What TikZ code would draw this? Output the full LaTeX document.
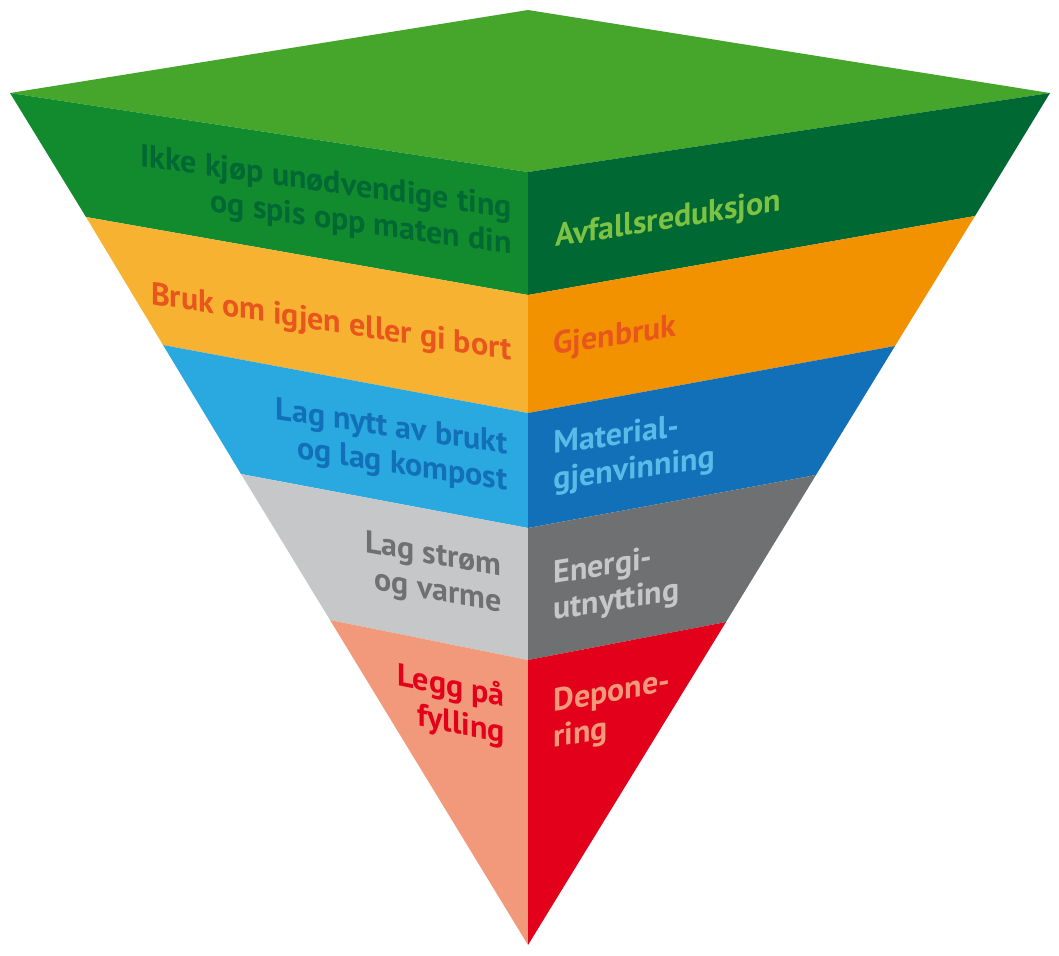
\documentclass[tikz,border=0pt]{standalone}
\usepackage{fontspec}
\setmainfont{PT Sans}
\usepackage{xcolor}
\usepackage{tikz}
\usetikzlibrary{calc}
\definecolor{topgreen}{RGB}{69,166,43}
\definecolor{greenleft}{RGB}{18,139,47}
\definecolor{greenright}{RGB}{0,104,51}
\definecolor{greenlight}{RGB}{125,194,66}
\definecolor{orangeleft}{RGB}{247,178,50}
\definecolor{orangeright}{RGB}{242,146,0}
\definecolor{orangetext}{RGB}{232,86,30}
\definecolor{blueleft}{RGB}{42,168,224}
\definecolor{blueright}{RGB}{17,112,183}
\definecolor{bluelight}{RGB}{88,187,232}
\definecolor{grayleft}{RGB}{198,199,200}
\definecolor{grayright}{RGB}{111,112,114}
\definecolor{salmonleft}{RGB}{241,153,122}
\definecolor{redright}{RGB}{226,0,26}

\begin{document}
\begin{tikzpicture}[
    x=0.5pt, y=-0.5pt,
    lefttext/.style={anchor=base east, align=right, inner sep=0pt, font=\fontsize{16}{18}\selectfont\bfseries},
    righttext/.style={anchor=base west, align=left, inner sep=0pt, font=\fontsize{16}{18}\selectfont\bfseries}
]
\useasboundingbox (0,0) rectangle (1059,955);

% Corners of the pyramid
\coordinate (apex) at (528,10);
\coordinate (tip) at (528,945);
\coordinate (l0) at (10,93);   \coordinate (c0) at (528,172); \coordinate (r0) at (1050,93);
\coordinate (l1) at (86,217);  \coordinate (c1) at (528,295); \coordinate (r1) at (975,216);
\coordinate (l2) at (163,345); \coordinate (c2) at (528,413); \coordinate (r2) at (895,346);
\coordinate (l3) at (241,474); \coordinate (c3) at (528,528); \coordinate (r3) at (816,475);
\coordinate (l4) at (330,620); \coordinate (c4) at (528,660); \coordinate (r4) at (726,622);

% Top face
\fill[topgreen] (l0) -- (apex) -- (r0) -- (c0) -- cycle;

% Left faces
\fill[greenleft] (l0) -- (c0) -- (c1) -- (l1) -- cycle;
\fill[orangeleft] (l1) -- (c1) -- (c2) -- (l2) -- cycle;
\fill[blueleft] (l2) -- (c2) -- (c3) -- (l3) -- cycle;
\fill[grayleft] (l3) -- (c3) -- (c4) -- (l4) -- cycle;
\fill[salmonleft] (l4) -- (c4) -- (tip) -- cycle;

% Right faces
\fill[greenright] (c0) -- (r0) -- (r1) -- (c1) -- cycle;
\fill[orangeright] (c1) -- (r1) -- (r2) -- (c2) -- cycle;
\fill[blueright] (c2) -- (r2) -- (r3) -- (c3) -- cycle;
\fill[grayright] (c3) -- (r3) -- (r4) -- (c4) -- cycle;
\fill[redright] (c4) -- (r4) -- (tip) -- cycle;

% Left labels (anchored at the last line)
\node[lefttext, text=greenright, yslant=-0.14] (reduce) at (512,254) {Ikke kjøp unødvendige ting\\og spis opp maten din};
\node[lefttext, text=orangetext, yslant=-0.155] (reuse) at (512,360) {Bruk om igjen eller gi bort};
\node[lefttext, text=blueright, yslant=-0.15] (recycle) at (508,490) {Lag nytt av brukt\\og lag kompost};
\node[lefttext, text=grayright, yslant=-0.175] (energy) at (502,612) {Lag strøm\\og varme};
\node[lefttext, text=redright, yslant=-0.2] (landfill) at (505,743) {Legg på\\fylling};

% Right labels
\node[righttext, text=greenlight, yslant=0.16] (reducename) at (555,247) {Avfallsreduksjon};
\node[righttext, text=orangetext, yslant=0.15] (reusename) at (553,355) {Gjenbruk};
\node[righttext, text=bluelight, yslant=0.14] (recyclename) at (553,490) {Material-\\gjenvinning};
\node[righttext, text=grayleft, yslant=0.16] (energyname) at (553,620) {Energi-\\utnytting};
\node[righttext, text=salmonleft, yslant=0.18] (landfillname) at (553,748) {Depone-\\ring};

\end{tikzpicture}
\end{document}
